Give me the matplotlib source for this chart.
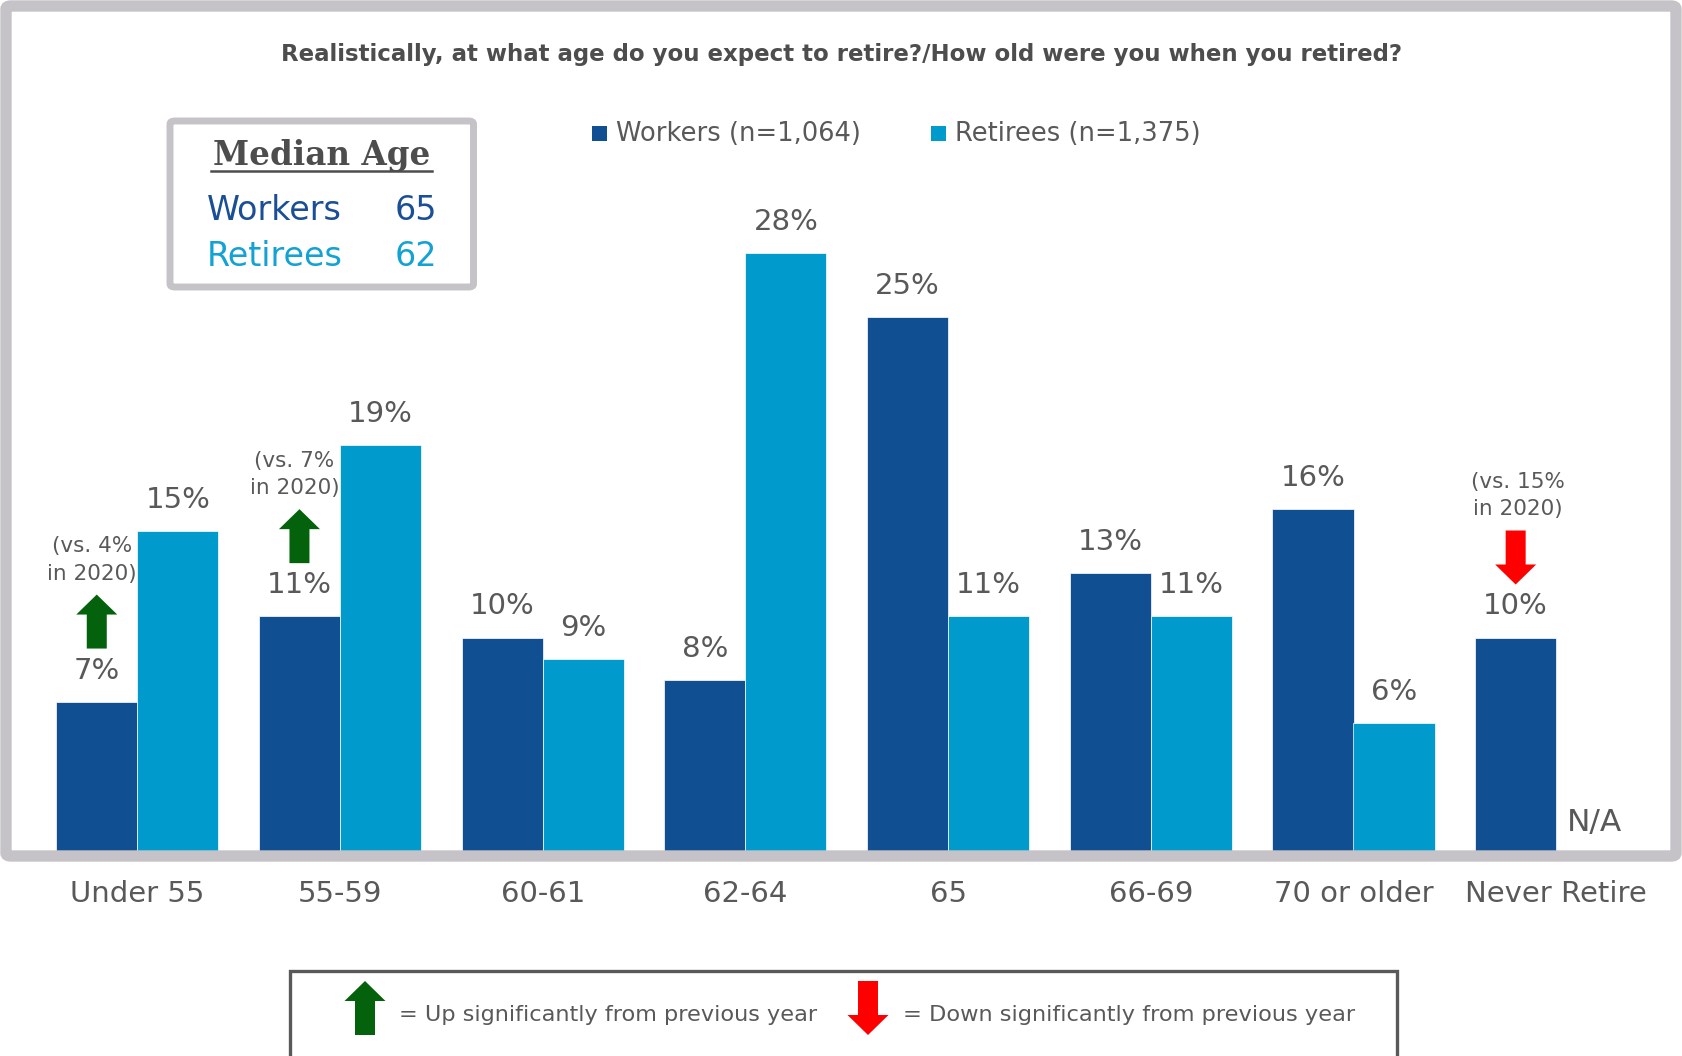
import numpy as np
import matplotlib.pyplot as plt
from matplotlib.patches import FancyBboxPatch, Rectangle, Polygon
from matplotlib.lines import Line2D

categories = ["Under 55", "55-59", "60-61", "62-64", "65", "66-69", "70 or older", "Never Retire"]
workers = [7, 11, 10, 8, 25, 13, 16, 10]
retirees = [15, 19, 9, 28, 11, 11, 6, None]   # no retiree figure for "Never Retire"

# significance markers: (category index, direction, note)
changes = [(0, "up", "(vs. 4%\nin 2020)"),
           (1, "up", "(vs. 7%\nin 2020)"),
           (7, "down", "(vs. 15%\nin 2020)")]

median_labels = ["Workers", "Retirees"]
median_ages = [65, 62]

title = "Realistically, at what age do you expect to retire?/How old were you when you retired?"
legend_labels = ["Workers (n=1,064)", "Retirees (n=1,375)"]

DARK = "#114f93"
LIGHT = "#009bcc"
GREY_TXT = "#595959"
FRAME = "#c5c3c7"
GREEN = "#03620b"
RED = "#ff0000"

W, H = 1682, 1056
plt.rcParams["font.family"] = ["DejaVu Sans"]

fig = plt.figure(figsize=(W / 100, H / 100), dpi=100)


def fx(x):
    return x / W


def fy(y):
    return 1 - y / H


# plot area sits inside the grey frame, baseline on the frame's bottom edge
ax_l, ax_r, ax_t, ax_b = 12, 1670, 12, 851
ax = fig.add_axes([fx(ax_l), fy(ax_b), (ax_r - ax_l) / W, (ax_b - ax_t) / H])
group_px, x0_px = 202.7, 137.3
xmin = (ax_l - x0_px) / group_px
xmax = (ax_r - x0_px) / group_px
unit_px = 21.35
ax.set_xlim(xmin, xmax)
ax.set_ylim(0, (ax_b - ax_t) / unit_px)
ax.axis("off")

# pixel -> data unit conversions
dx = 1 / group_px
dy = 1 / unit_px

x = np.arange(len(categories))
bw = 0.4
w_vals = np.array(workers, dtype=float)
r_vals = np.array([np.nan if v is None else v for v in retirees], dtype=float)

ax.bar(x - bw / 2, w_vals, bw, color=DARK, edgecolor="white", linewidth=0.5)
ax.bar(x + bw / 2, np.nan_to_num(r_vals), bw, color=LIGHT, edgecolor="white", linewidth=0.5)

lbl_size = 21
for i, v in enumerate(workers):
    ax.text(x[i] - bw / 2, v + 31 * dy, f"{v}%", ha="center", va="center",
            fontsize=lbl_size, color=GREY_TXT)
for i, v in enumerate(retirees):
    if v is None:
        ax.text(x[i] + bw / 2 - 2 * dx, 29 * dy, "N/A", ha="center", va="center",
                fontsize=22.5, color=GREY_TXT)
    else:
        ax.text(x[i] + bw / 2, v + 31 * dy, f"{v}%", ha="center", va="center",
                fontsize=lbl_size, color=GREY_TXT)

# category labels below the frame
for i, c in enumerate(categories):
    fig.text(fx(x0_px + group_px * i), fy(894), c, ha="center", va="center",
             fontsize=21, color=GREY_TXT)


def arrow_poly(cx, y_tail, y_tip, color):
    """Block arrow; cx, y in data units, widths in pixels."""
    shaft = 10 * dx
    head = 20.5 * dx
    head_len = 20 * dy * np.sign(y_tip - y_tail)
    yb = y_tip - head_len
    pts = [(cx - shaft, y_tail), (cx + shaft, y_tail), (cx + shaft, yb),
           (cx + head, yb), (cx, y_tip), (cx - head, yb), (cx - shaft, yb)]
    return Polygon(pts, closed=True, facecolor=color, edgecolor="none")


for i, direction, note in changes:
    cx = x[i] - bw / 2
    lab = workers[i] + 31 * dy
    if direction == "up":
        bot = lab + 22 * dy
        top = bot + 54 * dy
        ax.add_patch(arrow_poly(cx, bot, top, GREEN))
        note_x = cx - 5 * dx
    else:
        bot = lab + 22 * dy
        top = bot + 54 * dy
        ax.add_patch(arrow_poly(cx, top, bot, RED))
        note_x = cx + 2 * dx
    ax.text(note_x, top + 11 * dy, note, ha="center", va="bottom", fontsize=15.5,
            color=GREY_TXT, linespacing=1.45)

# outer grey frame
fig.patches.append(FancyBboxPatch((fx(6), fy(856)), fx(1670), (850) / H,
                                  boxstyle="round,pad=0,rounding_size=0.003",
                                  transform=fig.transFigure, facecolor="none",
                                  edgecolor=FRAME, linewidth=8.2, zorder=5))

fig.text(fx(842), fy(55), title, ha="center", va="center", fontsize=16.5,
         fontweight="bold", color="#4d4d4d")

# series legend
for (lx, tx), lab, col in zip([(592, 616), (931, 955)], legend_labels, [DARK, LIGHT]):
    fig.patches.append(Rectangle((fx(lx), fy(141)), 15 / W, 15 / H,
                                 transform=fig.transFigure, facecolor=col,
                                 edgecolor="none"))
    fig.text(fx(tx), fy(134), lab, ha="left", va="center", fontsize=18.5,
             color=GREY_TXT)

# median age box
fig.patches.append(FancyBboxPatch((fx(170), fy(287)), 303.5 / W, 166 / H,
                                  boxstyle="round,pad=0,rounding_size=0.003",
                                  transform=fig.transFigure, facecolor="white",
                                  edgecolor=FRAME, linewidth=5, zorder=2))
fig.text(fx(322), fy(156), "Median Age", ha="center", va="center", fontsize=23.5,
         fontweight="bold", family="DejaVu Serif", color="#4d4d4d", zorder=3)
fig.lines.append(Line2D([fx(211), fx(432)], [fy(171), fy(171)], color="#4d4d4d",
                        linewidth=1.8, transform=fig.transFigure, zorder=3))
for k, (name, age, col) in enumerate(zip(median_labels, median_ages, ["#1a4f96", "#13a2d3"])):
    yy = 210 + 46 * k
    fig.text(fx(207), fy(yy), name, ha="left", va="center", fontsize=24,
             color=col, zorder=3)
    fig.text(fx(437), fy(yy), str(age), ha="right", va="center", fontsize=24,
             color=col, zorder=3)

# significance key at the bottom
fig.patches.append(Rectangle((fx(290), fy(1060)), 1107 / W, 89 / H,
                             transform=fig.transFigure, facecolor="none",
                             edgecolor=GREY_TXT, linewidth=2.4))


def key_arrow(cx, y_tail, y_tip, color):
    sgn = np.sign(y_tip - y_tail)
    yb = y_tip - 20 * sgn
    pts = [(cx - 10, y_tail), (cx + 10, y_tail), (cx + 10, yb), (cx + 20.5, yb),
           (cx, y_tip), (cx - 20.5, yb), (cx - 10, yb)]
    pts = [(fx(a), fy(b)) for a, b in pts]
    fig.patches.append(Polygon(pts, closed=True, transform=fig.transFigure,
                               facecolor=color, edgecolor="none"))


key_arrow(365, 1035, 981, GREEN)
fig.text(fx(399), fy(1015), "= Up significantly from previous year", ha="left",
         va="center", fontsize=16.1, color=GREY_TXT)
key_arrow(868, 981, 1035, RED)
fig.text(fx(903), fy(1015), "= Down significantly from previous year", ha="left",
         va="center", fontsize=16.2, color=GREY_TXT)

fig.savefig("out.png", dpi=100, facecolor="white")
